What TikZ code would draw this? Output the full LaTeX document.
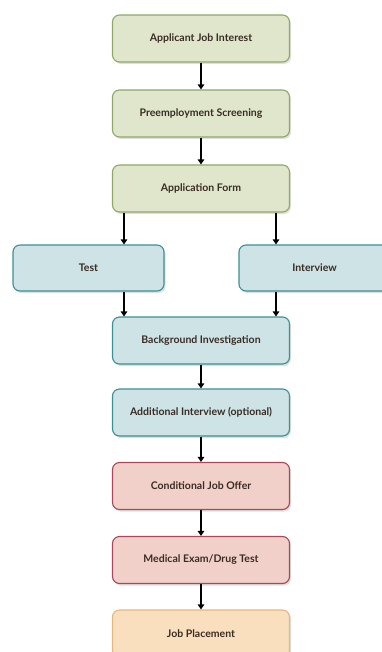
\documentclass[tikz,border=0pt]{standalone}
\usepackage{fontspec}
\setmainfont{Lato}
\usetikzlibrary{arrows.meta,shadows}

\definecolor{greenfill}{HTML}{DFE6CC}
\definecolor{greenline}{HTML}{8FA86A}
\definecolor{bluefill}{HTML}{CDE3E5}
\definecolor{blueline}{HTML}{3C8F92}
\definecolor{redfill}{HTML}{F2D0CA}
\definecolor{redline}{HTML}{A8485A}
\definecolor{orangefill}{HTML}{F9DFBD}
\definecolor{orangeline}{HTML}{E2B87E}
\definecolor{textbrown}{HTML}{3A2C24}

\begin{document}
\begin{tikzpicture}[x=1pt,y=-1pt,
stepbox/.style = {rectangle, rounded corners=7pt, line width=1.1pt,
  minimum width=177pt, minimum height=47pt, text=textbrown,
  font=\bfseries\fontsize{10.5}{12}\selectfont,
  drop shadow={shadow xshift=1.5pt, shadow yshift=-2pt, opacity=0.25}},
sidebox/.style = {stepbox, minimum width=151pt, minimum height=46pt},
greenbox/.style = {draw=greenline, fill=greenfill},
bluebox/.style = {draw=blueline, fill=bluefill},
redbox/.style = {draw=redline, fill=redfill},
orangebox/.style = {draw=orangeline, fill=orangefill},
link/.style = {line width=2pt, -{Triangle[length=5pt,width=6.5pt]}}]

\clip (0,0) rectangle (382,652);

% screening steps
\node[stepbox,greenbox] (interest) at (201,38.5) {Applicant Job Interest};
\node[stepbox,greenbox] (screening) at (201,113.5) {Preemployment Screening};
\node[stepbox,greenbox] (form) at (201,188.5) {Application Form};

% side by side
\node[sidebox,bluebox] (test) at (88.5,268) {Test};
\node[sidebox,bluebox] (interview) at (314.5,268) {Interview};

\node[stepbox,bluebox] (background) at (201,340.5) {Background Investigation};
\node[stepbox,bluebox] (additional) at (201,412.5) {Additional Interview (optional)};
\node[stepbox,redbox] (offer) at (201,486) {Conditional Job Offer};
\node[stepbox,redbox] (medical) at (201,560) {Medical Exam/Drug Test};
\node[stepbox,orangebox] (placement) at (201,633.5) {Job Placement};

\coordinate (leftx) at (124,0);
\coordinate (rightx) at (276,0);

% arrows
\draw[link] (interest) -- (screening);
\draw[link] (screening) -- (form);
\draw[link] (form.south -| leftx) -- (test.north -| leftx);
\draw[link] (form.south -| rightx) -- (interview.north -| rightx);
\draw[link] (test.south -| leftx) -- (background.north -| leftx);
\draw[link] (interview.south -| rightx) -- (background.north -| rightx);
\draw[link] (background) -- (additional);
\draw[link] (additional) -- (offer);
\draw[link] (offer) -- (medical);
\draw[link] (medical) -- (placement);
\end{tikzpicture}
\end{document}
